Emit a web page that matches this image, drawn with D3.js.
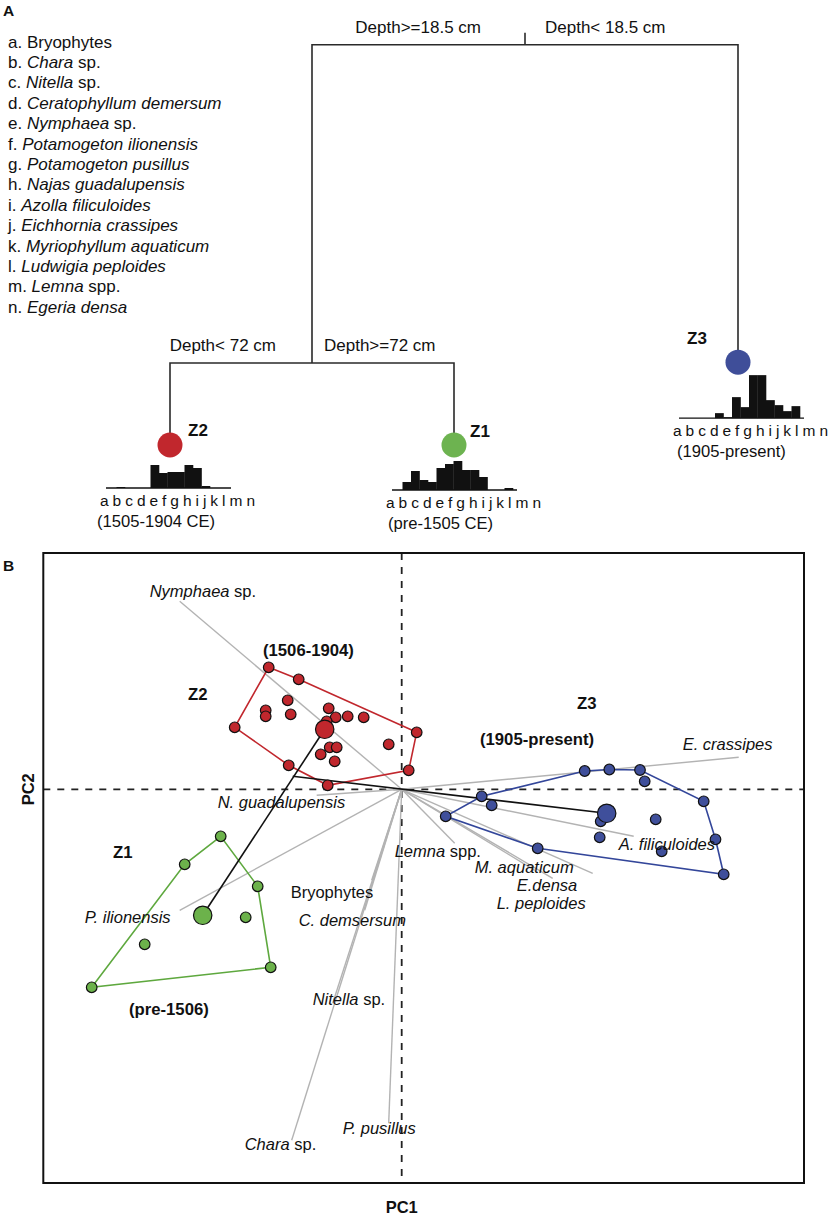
<!DOCTYPE html>
<html>
<head>
<meta charset="utf-8">
<script src="https://cdnjs.cloudflare.com/ajax/libs/d3/7.8.5/d3.min.js"></script>
<style>
  body { margin: 0; background: #fff; }
  svg text { font-family: "Liberation Sans", Arial, Helvetica, sans-serif; fill: #111; }
</style>
</head>
<body>
<svg id="fig" width="829" height="1216"></svg>
<script>
// ---------------- data ----------------
// taxa (letters used under the histograms)
var taxa = ["a", "b", "c", "d", "e", "f", "g", "h", "i", "j", "k", "l", "m", "n"];
// legend text, *...* = italic
var taxonNames = ["Bryophytes", "*Chara* sp.", "*Nitella* sp.", "*Ceratophyllum demersum*",
    "*Nymphaea* sp.", "*Potamogeton ilionensis*", "*Potamogeton pusillus*", "*Najas guadalupensis*",
    "*Azolla filiculoides*", "*Eichhornia crassipes*", "*Myriophyllum aquaticum*",
    "*Ludwigia peploides*", "*Lemna* spp.", "*Egeria densa*"];

// regression tree
var leaves = ["Z2", "Z1", "Z3"];
var leafPeriods = ["(1505-1904 CE)", "(pre-1505 CE)", "(1905-present)"];
var leafLevel = [0, 0, 0.207];          // relative height of leaf nodes
var splitLabels = [["Depth>=18.5 cm", "Depth< 18.5 cm"], ["Depth< 72 cm", "Depth>=72 cm"]];
var splitLevel = [1, 0.205];           // relative height of root and second split
// mean abundance of taxa a..n in each leaf
var abundZ2 = [0, 1, 0, 0, 0, 23, 15, 16, 16, 23, 20, 2, 0, 0];
var abundZ1 = [0, 8, 19, 10, 8, 22, 26, 29, 20, 20, 13, 0, 0, 2];
var abundZ3 = [0, 0, 0, 0, 5, 1, 21, 11, 43, 43, 18, 13, 7, 12];

// PCA sample scores [PC1, PC2]
var scoresZ2 = [[-1.33, 1.22], [-1.03, 1.10], [-1.14, 0.89], [-1.36, 0.79], [-1.36, 0.73], [-1.11, 0.75],
    [-1.67, 0.62], [-0.73, 0.81], [-0.66, 0.72], [-0.54, 0.73], [-0.38, 0.72], [-0.75, 0.68],
    [0.15, 0.57], [-0.13, 0.45], [-0.72, 0.42], [-0.65, 0.42], [-0.81, 0.35], [-0.67, 0.28],
    [-1.13, 0.24], [0.07, 0.19], [-0.74, 0.04]];
var scoresZ3 = [[1.83, 0.183], [2.076, 0.198], [2.383, 0.193], [2.43, 0.08], [3.02, -0.12], [2.54, -0.30],
    [3.138, -0.50], [3.22, -0.85], [2.60, -0.62], [1.98, -0.48], [1.99, -0.32], [1.36, -0.59],
    [0.44, -0.27], [0.80, -0.07], [0.90, -0.16]];
var scoresZ1 = [[-1.81, -0.47], [-2.17, -0.75], [-1.44, -0.97], [-1.56, -1.28], [-2.57, -1.55],
    [-1.31, -1.78], [-3.10, -1.98]];
var centroidZ2 = [-0.77, 0.60];
var centroidZ3 = [2.05, -0.24];
var centroidZ1 = [-1.99, -1.26];
var z3Link = [[-1.09, 0.13], [2.05, -0.24]];

// species loadings (a..n order) and their biplot labels
var loadings = [[-0.30, -0.91], [-1.10, -3.51], [-0.69, -2.14], [-0.37, -1.21], [-2.22, 1.88],
    [-2.22, -1.21], [-0.13, -3.34], [-0.85, -0.06], [2.32, -0.47], [3.37, 0.32], [1.33, -0.81],
    [1.91, -0.84], [0.53, -0.54], [1.51, -0.89]];
var loadingLabels = ["Bryophytes", "*Chara* sp.", "*Nitella* sp.", "*C. demsersum*", "*Nymphaea* sp.",
    "*P. ilionensis*", "*P. pusillus*", "*N. guadalupensis*", "*A. filiculoides*", "*E. crassipes*",
    "*M. aquaticum*", "*L. peploides*", "*Lemna* spp.", "*E.densa*"];

// ---------------- layout ----------------
var svg = d3.select("#fig");

// label nudges in px from the tip of each loading (x of text start, baseline)
var labelNudge = [[-81, 18], [-47, 10], [-20, 2], [-66, 16], [-30, -4], [-95, 13], [-46, 11],
    [-99, 13], [-15, 14], [-56, -7], [-60, 3], [-96, 36], [-60, 14], [-36, 13]];

// write "*italic* normal" strings as tspans
function richText(sel, str) {
    var parts = str.split("*");
    parts.forEach(function (p, i) {
        if (p === "") return;
        sel.append("tspan").attr("font-style", i % 2 === 1 ? "italic" : "normal").text(p);
    });
}

// ================= PANEL A =================
var gA = svg.append("g");
gA.append("text").attr("x", 3).attr("y", 16).attr("font-size", 15.5).attr("font-weight", "bold").text("A");

// legend list
taxa.forEach(function (t, i) {
    var tx = gA.append("text").attr("x", 8).attr("y", 47.5 + i * 20.4).attr("font-size", 17);
    tx.append("tspan").text(t + ". ");
    richText(tx, taxonNames[i]);
});

var xLeaf = d3.scalePoint().domain(leaves).range([170, 738]);
var yLev = d3.scaleLinear().domain([0, 1]).range([445, 44.7]);

var split2X = (xLeaf("Z2") + xLeaf("Z1")) / 2;
var rootX = (split2X + xLeaf("Z3")) / 2;
var treeLine = gA.append("g").attr("stroke", "#2a2a2a").attr("stroke-width", 1.6).attr("fill", "none");
var rootY = yLev(splitLevel[0]), s2Y = yLev(splitLevel[1]);
var lineGen = d3.line();
treeLine.append("path").attr("d", lineGen([[rootX, rootY - 12], [rootX, rootY]]));
treeLine.append("path").attr("d", lineGen([[split2X, s2Y], [split2X, rootY], [xLeaf("Z3"), rootY], [xLeaf("Z3"), yLev(leafLevel[2])]]));
treeLine.append("path").attr("d", lineGen([[xLeaf("Z2"), yLev(leafLevel[0])], [xLeaf("Z2"), s2Y], [xLeaf("Z1"), s2Y], [xLeaf("Z1"), yLev(leafLevel[1])]]));

[[rootX, rootY], [split2X, s2Y]].forEach(function (p, i) {
    gA.append("text").attr("x", p[0] - (i === 0 ? 44 : 36)).attr("y", p[1] - 11.5)
        .attr("text-anchor", "end").attr("font-size", 17).text(splitLabels[i][0]);
    gA.append("text").attr("x", p[0] + (i === 0 ? 20 : 12)).attr("y", p[1] - 11.5)
        .attr("font-size", 17).text(splitLabels[i][1]);
});

var leafColors = ["#c1272d", "#6db350", "#3f4e99"];
var leafAbund = [abundZ2, abundZ1, abundZ3];
var histDrop = [43, 45, 56];          // histogram baseline below node
var letterOff = [-70, -68, -65];      // start of letter row from node
var periodOff = [-3, 2, 4];           // period label start from letter row
var leafLabelOff = [[18, -9], [16, -8], [-51, -18]];
var hY = d3.scaleLinear().domain([0, 43]).range([0, 43]);

leaves.forEach(function (z, i) {
    var cx = xLeaf(z), cy = yLev(leafLevel[i]);
    var lx = cx + letterOff[i];
    var base = cy + histDrop[i];
    var xb = d3.scaleBand().domain(taxa).range([lx + 8, lx + 8 + 119]).paddingInner(0);

    gA.append("g").selectAll("rect").data(leafAbund[i]).join("rect")
        .attr("x", function (d, k) { return xb(taxa[k]); })
        .attr("width", xb.bandwidth() + 0.3)
        .attr("y", function (d) { return base - hY(d); })
        .attr("height", function (d) { return hY(d); })
        .attr("fill", "#111");
    gA.append("line").attr("x1", lx + 6).attr("x2", lx + 131).attr("y1", base).attr("y2", base)
        .attr("stroke", "#111").attr("stroke-width", 1.3);
    gA.append("text").attr("x", lx).attr("y", base + 17.5).attr("font-size", 15.5)
        .attr("font-family", "\"DejaVu Sans\", Verdana, sans-serif")
        .attr("textLength", 155).attr("lengthAdjust", "spacing")
        .text(taxa.join(" "));
    gA.append("text").attr("x", lx + periodOff[i]).attr("y", base + 39).attr("font-size", 16.6).text(leafPeriods[i]);

    gA.append("circle").attr("cx", cx).attr("cy", cy).attr("r", 12.5).attr("fill", leafColors[i]);
    gA.append("text").attr("x", cx + leafLabelOff[i][0]).attr("y", cy + leafLabelOff[i][1])
        .attr("font-size", 17).attr("font-weight", "bold").text(z);
});

// ================= PANEL B =================
var gB = svg.append("g");
var x = d3.scaleLinear().domain([-3.584, 4.023]).range([43.3, 804]);
var y = d3.scaleLinear().domain([-3.937, 2.363]).range([1183, 553]);

gB.append("text").attr("x", 3).attr("y", 570.5).attr("font-size", 15.5).attr("font-weight", "bold").text("B");

// zero lines
gB.append("line").attr("x1", x.range()[0]).attr("x2", x.range()[1]).attr("y1", y(0)).attr("y2", y(0))
    .attr("stroke", "#222").attr("stroke-width", 1.8).attr("stroke-dasharray", "7,7");
gB.append("line").attr("x1", x(0)).attr("x2", x(0)).attr("y1", y.range()[1]).attr("y2", y.range()[0])
    .attr("stroke", "#222").attr("stroke-width", 1.8).attr("stroke-dasharray", "7,7");

// species vectors
gB.append("g").selectAll("line").data(loadings).join("line")
    .attr("x1", x(0)).attr("y1", y(0))
    .attr("x2", function (d) { return x(d[0]); }).attr("y2", function (d) { return y(d[1]); })
    .attr("stroke", "#b3b3b3").attr("stroke-width", 1.4);

// convex hulls
var groups = [
    { pts: scoresZ2, c: centroidZ2, fill: "#c0272d", line: "#c1272d" },
    { pts: scoresZ3, c: centroidZ3, fill: "#3f4f9b", line: "#33469a" },
    { pts: scoresZ1, c: centroidZ1, fill: "#6cb24b", line: "#5ea83e" }
];
groups.forEach(function (g) {
    var px = g.pts.map(function (d) { return [x(d[0]), y(d[1])]; });
    var hull = d3.polygonHull(px);
    gB.append("path").attr("d", "M" + hull.join("L") + "Z")
        .attr("fill", "none").attr("stroke", g.line).attr("stroke-width", 1.6);
});

// trajectory lines
var pl = d3.line().x(function (d) { return x(d[0]); }).y(function (d) { return y(d[1]); });
gB.append("path").attr("d", pl([centroidZ1, centroidZ2])).attr("stroke", "#111").attr("stroke-width", 1.6).attr("fill", "none");
gB.append("path").attr("d", pl(z3Link)).attr("stroke", "#111").attr("stroke-width", 1.6).attr("fill", "none");

// sample points and centroids
groups.forEach(function (g) {
    gB.append("g").selectAll("circle").data(g.pts).join("circle")
        .attr("cx", function (d) { return x(d[0]); }).attr("cy", function (d) { return y(d[1]); })
        .attr("r", 5.3).attr("fill", g.fill).attr("stroke", "#111").attr("stroke-width", 1.2);
    gB.append("circle").attr("cx", x(g.c[0])).attr("cy", y(g.c[1])).attr("r", 9.2)
        .attr("fill", g.fill).attr("stroke", "#111").attr("stroke-width", 1.2);
});

// loading labels
loadings.forEach(function (d, i) {
    var t = gB.append("text").attr("x", x(d[0]) + labelNudge[i][0]).attr("y", y(d[1]) + labelNudge[i][1])
        .attr("font-size", 16.5);
    richText(t, loadingLabels[i]);
});

// zone labels
var zoneText = [["Z2", 188, 700], ["(1506-1904)", 263, 656], ["Z3", 577, 709], ["(1905-present)", 480, 745],
    ["Z1", 113, 858], ["(pre-1506)", 129, 1015]];
zoneText.forEach(function (z) {
    gB.append("text").attr("x", z[1]).attr("y", z[2]).attr("font-size", 16.7).attr("font-weight", "bold").text(z[0]);
});

// frame
gB.append("rect").attr("x", x.range()[0]).attr("y", y.range()[1])
    .attr("width", x.range()[1] - x.range()[0]).attr("height", y.range()[0] - y.range()[1])
    .attr("fill", "none").attr("stroke", "#111").attr("stroke-width", 2);

// axis titles
gB.append("text").attr("x", x(0)).attr("y", 1213).attr("text-anchor", "middle")
    .attr("font-size", 16.5).attr("font-weight", "bold").text("PC1");
gB.append("text").attr("transform", "translate(34," + y(0) + ") rotate(-90)").attr("text-anchor", "middle")
    .attr("font-size", 16.5).attr("font-weight", "bold").text("PC2");
</script>
</body>
</html>
